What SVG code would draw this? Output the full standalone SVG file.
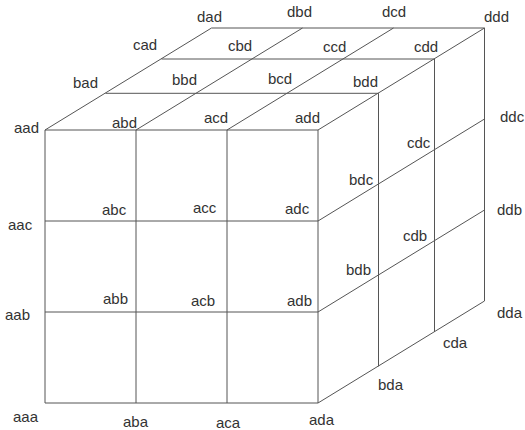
<svg xmlns="http://www.w3.org/2000/svg" width="525" height="430" viewBox="0 0 525 430">
<style>
.e{stroke:#555;stroke-width:1;fill:none}
text{font-family:"Liberation Sans",Arial,sans-serif;font-size:15px;fill:#333}
</style>
<rect width="525" height="430" fill="#fff"/>
<g id="connectors" class="e">
<path d="M45,130V403M136,130V403M227,130V403M318,130V403"/>
<path d="M45,130H318M45,221H318M45,312H318M45,403H318"/>
<path d="M45,130L211.5,28M136,130L302.5,28M227,130L393.5,28M318,130L484.5,28"/>
<path d="M105.5,93.3H378.5M161.5,59H434.5M211.5,28H484.5"/>
<path d="M318,221L484.5,119M318,312L484.5,210M318,403L484.5,301"/>
<path d="M378.5,93.3V366.3M434.5,59V332M484.5,28V301"/>
</g>
<g id="dad"><text x="197" y="21.5">dad</text></g>
<g id="cad"><text x="133" y="49.5">cad</text></g>
<g id="bad"><text x="73" y="88">bad</text></g>
<g id="aad"><text x="14" y="132.5">aad</text></g>
<g id="abd"><text x="112" y="128">abd</text></g>
<g id="acd"><text x="204" y="122.5">acd</text></g>
<g id="bbd"><text x="172" y="85">bbd</text></g>
<g id="cbd"><text x="228" y="51">cbd</text></g>
<g id="dbd"><text x="287" y="16.5">dbd</text></g>
<g id="dcd"><text x="382" y="17">dcd</text></g>
<g id="ddd"><text x="484" y="22">ddd</text></g>
<g id="ccd"><text x="323" y="52">ccd</text></g>
<g id="cdd"><text x="414" y="51.5">cdd</text></g>
<g id="bcd"><text x="268" y="84">bcd</text></g>
<g id="bdd"><text x="353" y="86.5">bdd</text></g>
<g id="add"><text x="295" y="123">add</text></g>
<g id="ddc"><text x="500" y="121.5">ddc</text></g>
<g id="cdc"><text x="407" y="148">cdc</text></g>
<g id="abc"><text x="102" y="215">abc</text></g>
<g id="acc"><text x="193" y="213">acc</text></g>
<g id="aac"><text x="8" y="229.5">aac</text></g>
<g id="adc"><text x="285" y="214">adc</text></g>
<g id="bdc"><text x="349" y="185">bdc</text></g>
<g id="ddb"><text x="497" y="215">ddb</text></g>
<g id="cdb"><text x="403" y="241">cdb</text></g>
<g id="bdb"><text x="346" y="275">bdb</text></g>
<g id="abb"><text x="103" y="304">abb</text></g>
<g id="acb"><text x="191" y="306">acb</text></g>
<g id="aab"><text x="5" y="320">aab</text></g>
<g id="aaa"><text x="13" y="421.5">aaa</text></g>
<g id="aba"><text x="123" y="427">aba</text></g>
<g id="aca"><text x="216" y="427.5">aca</text></g>
<g id="adb"><text x="287" y="306">adb</text></g>
<g id="dda"><text x="497" y="318">dda</text></g>
<g id="cda"><text x="443" y="348">cda</text></g>
<g id="bda"><text x="378" y="389.5">bda</text></g>
<g id="ada"><text x="309" y="425">ada</text></g>
</svg>
